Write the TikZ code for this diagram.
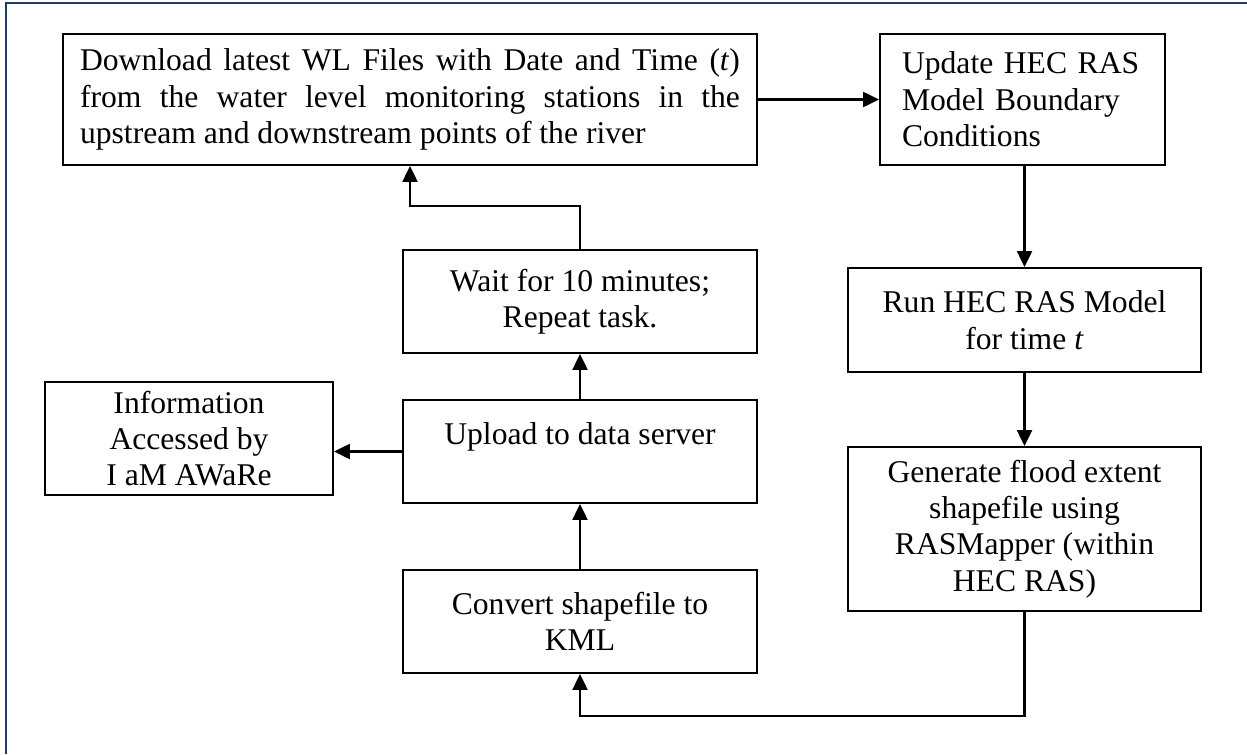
\documentclass[tikz,border=0pt]{standalone}
\usepackage{fontspec}
\setmainfont{Liberation Serif}
\usetikzlibrary{arrows.meta}
\definecolor{framenavy}{RGB}{31,56,100}

\begin{document}
\begin{tikzpicture}[x=0.02cm, y=-0.02cm,
    stage/.style={draw, line width=1.1pt, inner sep=0pt, align=center,
                  font=\fontsize{18}{20.7}\selectfont},
    flow/.style={line width=1.3pt, -{Triangle[length=0.32cm,width=0.3cm]}}]
                \useasboundingbox (0,0) rectangle (1247,754);
                \draw[framenavy, line width=1.7pt] (6,754) -- (6,3) -- (1247,3);
                \node[stage, minimum width=13.88cm, minimum height=2.62cm, text width=13.2cm, align=justify] (dl) at (410,99.5)
                    {Download latest WL Files with Date and Time (\textit{t})\linebreak from the water level monitoring stations in the\linebreak upstream and downstream points of the river};
                \node[stage, minimum width=5.7cm, minimum height=2.62cm, text width=4.82cm, align=left] (upd) at (1022.5,99.5)
                    {Update HEC RAS\\ Model Boundary\\ Conditions};
                \node[stage, minimum width=7.06cm, minimum height=2.08cm] (run) at (1024.5,320) {Run HEC RAS Model\\ for time \textit{t}};
                \node[stage, minimum width=7.06cm, minimum height=3.28cm] (gen) at (1024.5,529)
                    {Generate flood extent\\ shapefile using\\ RASMapper (within\\ HEC RAS)};
                \node[stage, minimum width=7.08cm, minimum height=2.06cm] (wait) at (580,301.5) {Wait for 10 minutes;\\ Repeat task.};
                \node[stage, minimum width=7.08cm, minimum height=2.06cm] (upl) at (580,451.5) {Upload to data server\\ \mbox{}};
                \node[stage, minimum width=7.08cm, minimum height=2.06cm] (conv) at (580,621.5) {Convert shapefile to\\ KML};
                \node[stage, minimum width=5.76cm, minimum height=2.26cm] (info) at (189,438.5) {Information\\ Accessed by\\ I aM AWaRe};
                \draw[flow] (dl.east) -- (upd.west);
                \draw[flow] (run.north |- upd.south) -- (run.north);
                \draw[flow] (run) -- (gen);
                \draw[flow] (gen.south) -- ++(0,104) -| (conv.south);
                \draw[flow] (conv) -- (upl);
                \draw[flow] (upl) -- (wait);
                \draw[flow] (wait.north) -- ++(0,-43) -| (dl.south);
                \draw[flow] (upl.west) -- (upl.west -| info.east);
            \end{tikzpicture}
\end{document}
